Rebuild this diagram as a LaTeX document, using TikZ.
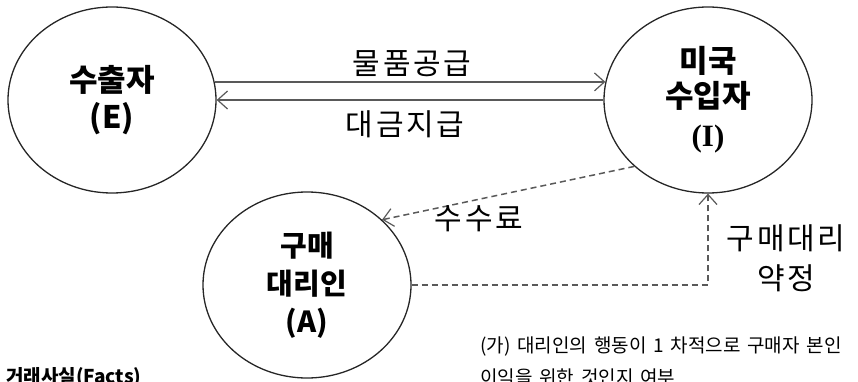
\documentclass[tikz,border=0pt]{standalone}
\usepackage{fontspec}
\setmainfont{Noto Sans CJK KR}
\newfontfamily\serifb{Liberation Serif}
\newfontfamily\spaced[LetterSpace=9]{Noto Sans CJK KR}
\newfontfamily\notefont[WordSpace=1.6]{Noto Sans CJK KR}
\usetikzlibrary{shapes.geometric,arrows.meta}
\tikzset{
  party/.style={ellipse,draw=black!85,line width=1.3pt,minimum width=208pt,minimum height=186pt,inner sep=0pt,align=center,font=\fontsize{31}{39}\selectfont\bfseries},
  flow/.style={draw=black!65,line width=1.5pt,-{Straight Barb[length=10pt,width=18pt,line width=1.2pt]}},
  dflow/.style={draw=black!65,line width=1.5pt,dash pattern=on 6pt off 4pt,-{Straight Barb[length=10pt,width=18pt,line width=1.2pt]}},
  lbl/.style={font=\fontsize{30}{36}\spaced\selectfont,inner sep=0pt,align=center},
  note/.style={font=\notefont\fontsize{19}{24}\selectfont,inner sep=0pt,anchor=north west}
}
\begin{document}
\begin{tikzpicture}[x=1pt,y=-1pt]
\useasboundingbox (0,0) rectangle (858,382);
\clip (0,0) rectangle (858,382);
\node[party] (E) at (112,100) {수출자\\[-2pt](E)};
\node[party] (I) at (708,100) {미국\\[-4pt]수입자\\[0pt]{\serifb\bfseries (I)}};
\node[party,font=\fontsize{29}{38}\selectfont\bfseries] (A) at (307,285) {구매\\대리인\\(A)};
\draw[flow] (E.10) -- (I.170);
\draw[flow] (I.180) -- (E.0);
\node[lbl] (l1) at (412,64) {물품공급};
\node[lbl] (l2) at (405,124) {대금지급};
\draw[dflow] (I.222) -- (A.41);
\node[lbl] (l3) at (479,219) {수수료};
\draw[dflow] (A.east) -| (I.south);
\node[lbl,font=\fontsize{30}{40}\spaced\selectfont] (l4) at (786,258) {구매대리\\약정};
\node[note] (n1) at (480,337) {(가) 대리인의 행동이 1 차적으로 구매자 본인};
\node[note] (n1b) at (480,369) {이익을 위한 것인지 여부};
\node[note,font=\fontsize{19}{24}\selectfont\bfseries] (n2) at (6,367) {거래사실(Facts)};
\end{tikzpicture}
\end{document}
